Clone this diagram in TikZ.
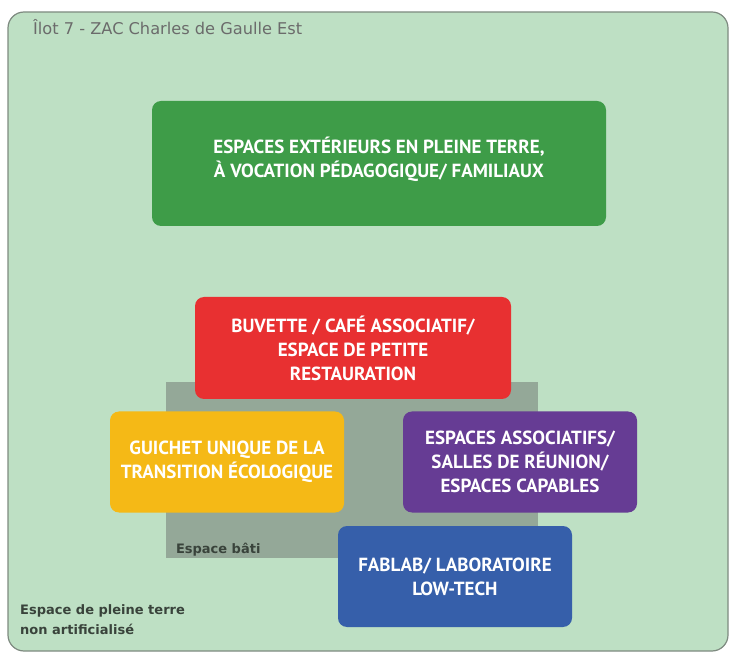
\documentclass[tikz,border=0pt]{standalone}
\usepackage{fontspec}
\setmainfont{DejaVu Sans}
\newfontfamily\blocfont{PT Sans}
\usepackage{tikz}
\usetikzlibrary{positioning}

\definecolor{terre}{HTML}{BEE0C4}
\definecolor{bord}{HTML}{7E8A80}
\definecolor{bati}{HTML}{94A898}
\definecolor{vert}{HTML}{3E9C48}
\definecolor{rouge}{HTML}{E83031}
\definecolor{jaune}{HTML}{F5B916}
\definecolor{violet}{HTML}{663C94}
\definecolor{bleu}{HTML}{365FAA}
\definecolor{legende}{HTML}{39433B}

\begin{document}
\begin{tikzpicture}[x=1pt,y=-1pt,font=\fontsize{16.2}{19}\selectfont]
            \tikzstyle{zone}=[draw=bord,line width=1.2pt,fill=terre,rounded corners=16pt,inner sep=0]
            \tikzstyle{bloc}=[rounded corners=9pt,inner sep=0,text=white,align=center,minimum width=234pt,minimum height=101pt,font=\blocfont\bfseries\fontsize{19}{24}\selectfont]
            \tikzstyle{legende}=[text=legende,inner sep=0,font=\bfseries\fontsize{13}{20}\selectfont]
            \useasboundingbox (0,0) rectangle (729,652);
            \node(ilot)[zone,minimum width=720pt,minimum height=639pt] at (368,331.5){};
            \node(titre)[anchor=west,text=black!58,inner sep=0] at (33,27){Îlot 7 - ZAC Charles de Gaulle Est};
            \node(bati)[fill=bati,inner sep=0,minimum width=372pt,minimum height=176pt] at (352,470){};
            \node(exterieur)[bloc,fill=vert,minimum width=454pt,minimum height=125pt] at (379,163.5){};
            \node(exterieurtexte)[bloc,minimum width=0pt,minimum height=0pt,above=-18pt of exterieur.center]{ESPACES EXTÉRIEURS EN PLEINE TERRE,\\ À VOCATION PÉDAGOGIQUE/ FAMILIAUX};
            \node(buvette)[bloc,fill=rouge,minimum width=316pt,minimum height=102pt] at (353,348){BUVETTE / CAFÉ ASSOCIATIF/\\ESPACE DE PETITE\\RESTAURATION};
            \node(guichet)[bloc,fill=jaune] at (227,462){GUICHET UNIQUE DE LA\\TRANSITION ÉCOLOGIQUE};
            \node(associatif)[bloc,fill=violet] at (520,462){ESPACES ASSOCIATIFS/\\SALLES DE RÉUNION/\\ESPACES CAPABLES};
            \node(fablab)[bloc,fill=bleu] at (455,576.5){FABLAB/ LABORATOIRE\\LOW-TECH};
            \node(batilabel)[legende,above right=2pt and 10pt of bati.south west]{Espace bâti};
            \node(terrelabel)[legende,anchor=west,align=left] at (20,620){Espace de pleine terre\\non artificialisé};
          \end{tikzpicture}
\end{document}
